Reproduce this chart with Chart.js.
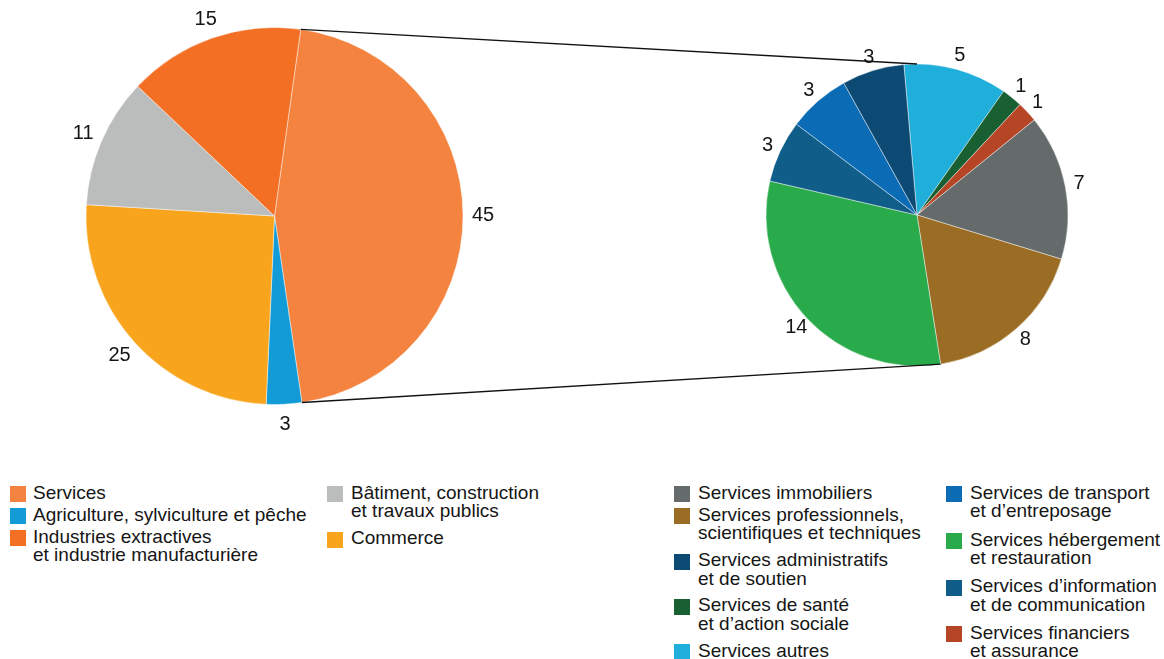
<!DOCTYPE html>
<html lang="fr">
<head>
<meta charset="utf-8">
<title>Répartition par secteur</title>
<script src="https://cdn.jsdelivr.net/npm/chart.js@4.4.1/dist/chart.umd.min.js"></script>
<style>
  html, body { margin: 0; padding: 0; background: #fff; }
  body { width: 1164px; height: 659px; position: relative; overflow: hidden;
         font-family: "Liberation Sans", Arial, Helvetica, sans-serif; color: #151515; }
  canvas { position: absolute; left: 0; top: 0; }
  .legend-col { position: absolute; top: 484px; }
  .legend-item { position: relative; font-size: 19px; line-height: 18.4px; white-space: pre-line; margin-bottom: 3.6px; }
  .legend-item .sw { position: absolute; width: 16px; height: 16px; top: 2.4px; }
</style>
</head>
<body>
<canvas id="leftPie" width="1164" height="470"></canvas>
<canvas id="rightPie" width="1164" height="470"></canvas>
<div id="legends"></div>

<script>
// left pie: main sectors
const leftLabels = ['Services', 'Agriculture, sylviculture et pêche', 'Commerce',
  'Bâtiment, construction\net travaux publics', 'Industries extractives\net industrie manufacturière'];
const leftValues = [45, 3, 25, 11, 15];
const leftColors = ['#f3833f', '#129bd7', '#f8a51d', '#bbbdbd', '#f36f24'];

// right pie: breakdown of services
const rightLabels = ['Services autres', 'Services de santé\net d’action sociale', 'Services financiers\net assurance',
  'Services immobiliers', 'Services professionnels,\nscientifiques et techniques', 'Services hébergement\net restauration',
  'Services d’information\net de communication', 'Services de transport\net d’entreposage', 'Services administratifs\net de soutien'];
const rightValues = [5, 1, 1, 7, 8, 14, 3, 3, 3];
const rightColors = ['#20aeda', '#185f31', '#b64526', '#656a6a', '#9b6c23', '#29ab4c', '#0f5d88', '#0b6cb5', '#0c4a74'];

// legend order (indices into the arrays above), one list per column
const leftLegendCols = [[0, 1, 4], [3, 2]];
const rightLegendCols = [[3, 4, 8, 1, 0], [7, 5, 6, 2]];

const valueLabels = {
  id: 'valueLabels',
  afterDatasetsDraw(chart, args, opts) {
    const ctx = chart.ctx;
    const meta = chart.getDatasetMeta(0);
    const values = chart.data.datasets[0].data;
    ctx.save();
    ctx.font = '20px "Liberation Sans", Arial, sans-serif';
    ctx.fillStyle = '#151515';
    ctx.textAlign = 'center';
    ctx.textBaseline = 'middle';
    meta.data.forEach((arc, i) => {
      const mid = (arc.startAngle + arc.endAngle) / 2;
      const r = arc.outerRadius + opts.offset;
      ctx.fillText(String(values[i]), arc.x + Math.cos(mid) * r, arc.y + Math.sin(mid) * r);
    });
    ctx.restore();
  }
};

let leftChart;

// lines from the services slice to the detail pie
const connector = {
  id: 'connector',
  afterDraw(chart) {
    if (!leftChart) return;
    const src = leftChart.getDatasetMeta(0).data[0];
    const dst = chart.getDatasetMeta(0).data;
    const pt = (arc, a) => [arc.x + arc.outerRadius * Math.cos(a), arc.y + arc.outerRadius * Math.sin(a)];
    const a1 = pt(src, src.startAngle), a2 = pt(src, src.endAngle);
    const b1 = pt(dst[0], -Math.PI / 2), b2 = pt(dst[4], dst[4].endAngle);
    const ctx = chart.ctx;
    ctx.save();
    ctx.strokeStyle = '#111';
    ctx.lineWidth = 1.3;
    ctx.beginPath();
    ctx.moveTo(a1[0], a1[1]); ctx.lineTo(b1[0], b1[1]);
    ctx.moveTo(a2[0], a2[1]); ctx.lineTo(b2[0], b2[1]);
    ctx.stroke();
    ctx.restore();
  }
};

function pieConfig(labels, values, colors, radius, rotation, padding, offset, extra) {
  return {
    type: 'pie',
    data: { labels: labels, datasets: [{ data: values, backgroundColor: colors,
      borderColor: 'rgba(255,255,255,0.55)', borderWidth: 0.8 }] },
    options: {
      responsive: false,
      animation: false,
      radius: radius,
      rotation: rotation,
      layout: { padding: padding },
      events: [],
      plugins: { legend: { display: false }, tooltip: { enabled: false }, valueLabels: { offset: offset } }
    },
    plugins: [valueLabels].concat(extra || [])
  };
}

leftChart = new Chart(document.getElementById('leftPie'),
  pieConfig(leftLabels, leftValues, leftColors, 188.5, 8, { left: 0, right: 615, top: 0, bottom: 38 }, 20));

new Chart(document.getElementById('rightPie'),
  pieConfig(rightLabels, rightValues, rightColors, 151, -5, { left: 717, right: 47, top: 15, bottom: 55 }, 14, [connector]));

// html legends; gap = space after a two-line entry
const legendCols = [
  { x: 10, textX: 33, gap: 8.4, idx: leftLegendCols[0], labels: leftLabels, colors: leftColors },
  { x: 327, textX: 351, gap: 8.4, idx: leftLegendCols[1], labels: leftLabels, colors: leftColors },
  { x: 674, textX: 698, gap: 8.4, idx: rightLegendCols[0], labels: rightLabels, colors: rightColors },
  { x: 946, textX: 970, gap: 9.8, idx: rightLegendCols[1], labels: rightLabels, colors: rightColors }
];
const $legends = document.getElementById('legends');
legendCols.forEach(col => {
  const div = document.createElement('div');
  div.className = 'legend-col';
  div.style.left = col.textX + 'px';
  col.idx.forEach(i => {
    const item = document.createElement('div');
    item.className = 'legend-item';
    if (col.labels[i].includes('\n')) item.style.marginBottom = col.gap + 'px';
    const sw = document.createElement('span');
    sw.className = 'sw';
    sw.style.background = col.colors[i];
    sw.style.left = (col.x - col.textX) + 'px';
    item.appendChild(sw);
    item.appendChild(document.createTextNode(col.labels[i]));
    div.appendChild(item);
  });
  $legends.appendChild(div);
});
</script>
</body>
</html>
